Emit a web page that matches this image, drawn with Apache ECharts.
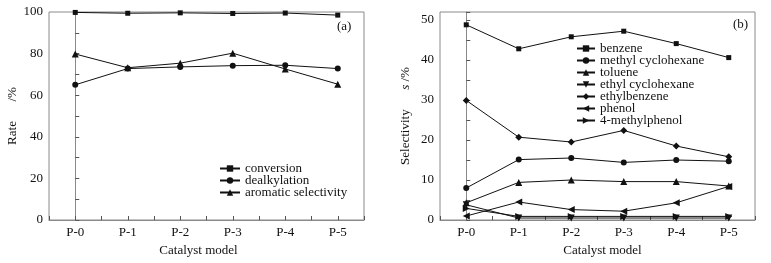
<!DOCTYPE html>
<html>
<head>
<meta charset="utf-8">
<script src="https://cdn.jsdelivr.net/npm/echarts@6/dist/echarts.min.js"></script>
<style>
  html, body { margin: 0; padding: 0; background: #fff; }
  #chart { width: 771px; height: 263px; }
</style>
</head>
<body>
<div id="chart"></div>
<script>
// 数据
var categories = ['P-0', 'P-1', 'P-2', 'P-3', 'P-4', 'P-5'];

// (a) 左图
var conversion = [99.8, 99.4, 99.6, 99.3, 99.5, 98.5];
var dealkylation = [65.0, 72.8, 73.6, 74.2, 74.4, 72.8];
var aromaticSel = [79.8, 73.2, 75.4, 80.2, 72.6, 65.3];

// (b) 右图
var benzene = [48.8, 42.8, 45.8, 47.2, 44.1, 40.6];
var methylCyclohexane = [8.0, 15.1, 15.5, 14.4, 15.0, 14.7];
var toluene = [4.3, 9.4, 10.0, 9.6, 9.6, 8.5];
var ethylCyclohexane = [3.8, 0.5, 0.5, 0.5, 0.5, 0.5];
var ethylbenzene = [29.9, 20.7, 19.5, 22.4, 18.5, 15.8];
var phenol = [1.0, 4.5, 2.6, 2.2, 4.3, 8.4];
var methylphenol = [2.9, 0.9, 0.9, 0.9, 0.9, 0.9];

var leftTicks = [0, 20, 40, 60, 80, 100];
var rightTicks = [0, 10, 20, 30, 40, 50];

var myChart = echarts.init(document.getElementById('chart'));

var font = 'Liberation Serif';
var gray = '#8a8a8a';

function pairs(arr) {
    return arr.map(function (v, i) { return [i, v]; });
}

function xAxisOpt(idx) {
    return {
        type: 'value',
        gridIndex: idx,
        min: -0.5,
        max: 5.5,
        interval: 0.5,
        name: 'Catalyst model',
        nameLocation: 'middle',
        nameGap: 23,
        nameTextStyle: { color: '#111', fontSize: 13, fontFamily: font, padding: idx === 0 ? [0, 16, 0, 0] : [0, 0, 0, 10] },
        axisLine: { lineStyle: { color: gray } },
        axisTick: { inside: true, length: 4, lineStyle: { color: '#555' } },
        splitLine: { show: false },
        axisLabel: {
            color: '#111', fontSize: 13, fontFamily: font, margin: 6,
            formatter: function (v) {
                return Number.isInteger(v) && categories[v] ? categories[v] : '';
            }
        }
    };
}

function yAxisOpt(idx, max, interval, ticks, name) {
    return {
        type: 'value',
        gridIndex: idx,
        min: 0,
        max: max,
        interval: interval,
        name: name,
        nameLocation: 'middle',
        nameGap: idx === 0 ? 30 : 28,
        nameTextStyle: {
            color: '#111', fontSize: 13, fontFamily: font,
            rich: { i: { fontStyle: 'italic', fontSize: 13, fontFamily: font, color: '#111' } }
        },
        axisLine: { show: true, lineStyle: { color: gray } },
        axisTick: { inside: true, length: 4, lineStyle: { color: '#555' } },
        splitLine: { show: false },
        axisLabel: {
            color: '#111', fontSize: 13, fontFamily: font, margin: 6,
            formatter: function (v) {
                return ticks.indexOf(v) >= 0 ? String(v) : '';
            }
        }
    };
}

function line(name, data, symbol, rot, xi) {
    return {
        name: name,
        type: 'line',
        xAxisIndex: xi,
        yAxisIndex: xi,
        data: pairs(data),
        symbol: symbol,
        symbolSize: symbol === 'rect' ? 5 : (symbol === 'circle' ? 6 : 7),
        symbolRotate: rot,
        lineStyle: { color: '#111', width: 1 },
        itemStyle: { color: '#111' },
        animation: false
    };
}

var option = {
    backgroundColor: '#fff',
    textStyle: { fontFamily: font },
    grid: [
        { left: 49, top: 12, width: 315, height: 208, show: true, borderColor: gray, borderWidth: 1 },
        { left: 440, top: 12, width: 315, height: 208, show: true, borderColor: gray, borderWidth: 1 }
    ],
    xAxis: [xAxisOpt(0), xAxisOpt(1)],
    yAxis: [
        yAxisOpt(0, 100, 10, leftTicks, 'Rate      /%'),
        yAxisOpt(1, 52, 5, rightTicks, 'Selectivity      {i|s} /%')
    ],
    legend: [
        {
            orient: 'vertical', left: 219, top: 162, padding: 0,
            itemWidth: 20, itemHeight: 8, itemGap: -1,
            textStyle: { color: '#111', fontSize: 13, fontFamily: font, lineHeight: 12 },
            data: ['conversion', 'dealkylation', 'aromatic selectivity']
        },
        {
            orient: 'vertical', left: 576, top: 42, padding: 0,
            itemWidth: 18, itemHeight: 8, itemGap: -1,
            textStyle: { color: '#111', fontSize: 13, fontFamily: font, lineHeight: 12 },
            data: ['benzene', 'methyl cyclohexane', 'toluene', 'ethyl cyclohexane',
                   'ethylbenzene', 'phenol', '4-methylphenol']
        }
    ],
    graphic: [
        { type: 'text', left: 337, top: 20, style: { text: '(a)', fontSize: 13, fontFamily: font, fill: '#111' } },
        { type: 'text', left: 733, top: 18, style: { text: '(b)', fontSize: 13, fontFamily: font, fill: '#111' } }
    ],
    series: [
        line('conversion', conversion, 'rect', 0, 0),
        line('dealkylation', dealkylation, 'circle', 0, 0),
        line('aromatic selectivity', aromaticSel, 'triangle', 0, 0),
        line('benzene', benzene, 'rect', 0, 1),
        line('methyl cyclohexane', methylCyclohexane, 'circle', 0, 1),
        line('toluene', toluene, 'triangle', 0, 1),
        line('ethyl cyclohexane', ethylCyclohexane, 'triangle', 180, 1),
        line('ethylbenzene', ethylbenzene, 'diamond', 0, 1),
        line('phenol', phenol, 'triangle', 90, 1),
        line('4-methylphenol', methylphenol, 'triangle', -90, 1)
    ]
};

myChart.setOption(option);
</script>
</body>
</html>
